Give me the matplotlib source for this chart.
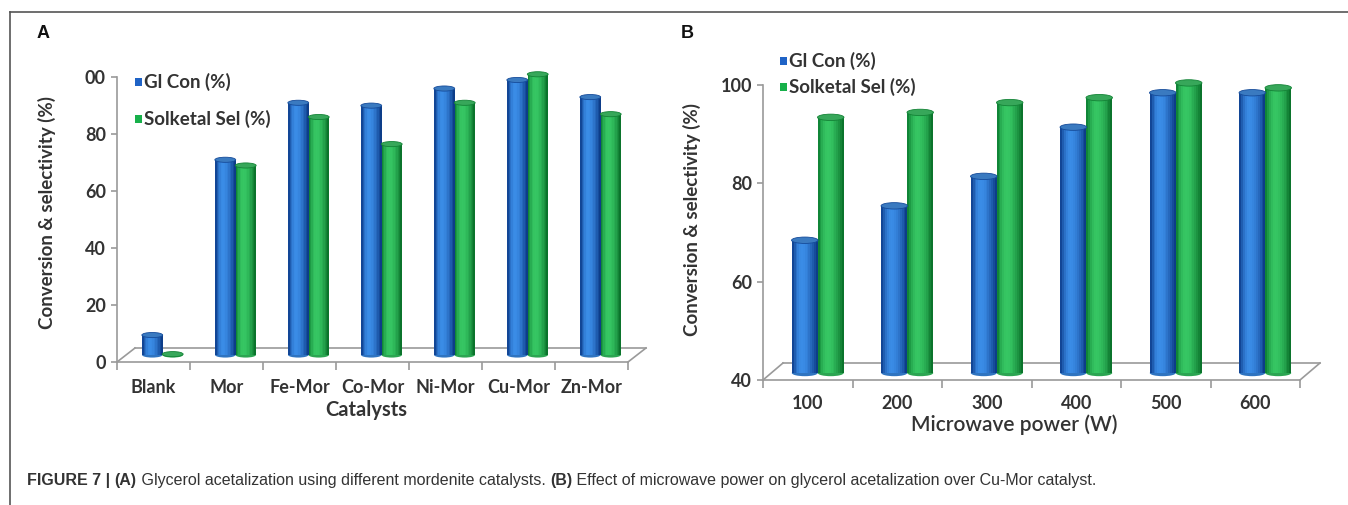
"""
Figure 7 recreation: glycerol acetalization over mordenite catalysts (A) and
effect of microwave power over Cu-Mor (B). 3D-ish cylinder bars, Excel style.
"""
import numpy as np
import matplotlib
matplotlib.use("Agg")
import matplotlib.pyplot as plt
from matplotlib.patches import Rectangle, Ellipse
from matplotlib.lines import Line2D
from matplotlib.transforms import ScaledTranslation
from matplotlib.colors import to_rgb

# data
catalysts = ["Blank", "Mor", "Fe-Mor", "Co-Mor", "Ni-Mor", "Cu-Mor", "Zn-Mor"]
gl_con_a = [7, 68.5, 88.5, 87.5, 93.5, 96.5, 90.5]
sol_sel_a = [0.3, 66.5, 83.5, 74, 88.5, 98.5, 84.5]

powers = ["100", "200", "300", "400", "500", "600"]
gl_con_b = [67, 74, 80, 90, 97, 97]
sol_sel_b = [92, 93, 95, 96, 99, 98]

yticks_a = [0, 20, 40, 60, 80, 100]
ytick_labels_a = ["0", "20", "40", "60", "80", "00"]
yticks_b = [40, 60, 80, 100]
ytick_labels_b = ["40", "60", "80", "100"]

BLUE = ("#0b3a88", "#3a8ce6", "#093580")   # dark edge, highlight, dark edge
GREEN = ("#0a7a2f", "#36c663", "#076c27")
AXIS_C = "#9a9a9a"
TXT = "#333333"
FONT = ["Lato", "DejaVu Sans"]

W, H = 1348, 505
fig = plt.figure(figsize=(W / 100, H / 100), dpi=100)


def fx(px):
    return px / W


def fy(py):
    return 1 - py / H


def shade(cols, t):
    dark1, light, dark2 = [np.array(to_rgb(c)) for c in cols]
    if t < 0.38:
        f = t / 0.38
        return dark1 + (light - dark1) * np.sin(f * np.pi / 2)
    f = (t - 0.38) / 0.62
    return light + (dark2 - light) * (1 - np.cos(f * np.pi / 2))


def cylinder(ax, x0, w, base, top, cols, cap_h, tr):
    n = 14
    for i in range(n):
        c = shade(cols, (i + 0.5) / n)
        ax.add_patch(Rectangle((x0 + i * w / n, base), w / n * 1.02, top - base,
                               facecolor=c, edgecolor="none", transform=tr,
                               clip_on=False, zorder=3))
    mid = shade(cols, 0.5)
    ax.add_patch(Ellipse((x0 + w / 2, base), w, cap_h, facecolor=mid * 0.85,
                         edgecolor="none", transform=tr, clip_on=False, zorder=2.9))
    capc = np.clip(np.array(to_rgb(cols[1])) * 0.78 + 0.05, 0, 1)
    ax.add_patch(Ellipse((x0 + w / 2, top), w * 1.02, cap_h, facecolor=capc,
                         edgecolor=shade(cols, 0.9), lw=0.6, transform=tr,
                         clip_on=False, zorder=3.1))


def panel(box, cats, s1, s2, yticks, ylabs, ymin, ymax, bw, shift, depth, cap_h,
          lbl_pad):
    left, right, y0px, y1px = box
    ax = fig.add_axes([fx(left), fy(y0px), fx(right - left), fy(y1px) - fy(y0px)])
    n = len(cats)
    ax.set_xlim(-0.5, n - 0.5)
    ax.set_ylim(ymin, ymax)
    for s in ["top", "right"]:
        ax.spines[s].set_visible(False)
    for s in ["left", "bottom"]:
        ax.spines[s].set_color(AXIS_C)
        ax.spines[s].set_linewidth(1.2)

    ax.set_yticks(yticks)
    ax.set_yticklabels(ylabs)
    ax.tick_params(axis="y", length=4, width=1.2, color=AXIS_C, pad=4,
                   labelsize=13, labelcolor=TXT)
    ax.set_xticks(range(n))
    ax.set_xticklabels(cats)
    ax.set_xticks(np.arange(-0.5, n, 1.0), minor=True)
    ax.tick_params(axis="x", which="major", length=0, pad=lbl_pad, labelsize=13,
                   labelcolor=TXT)
    ax.tick_params(axis="x", which="minor", length=6, width=1.2, color=AXIS_C,
                   direction="out")
    for t in ax.get_xticklabels() + ax.get_yticklabels():
        t.set_fontweight("bold")
        t.set_family(FONT)

    # floor of the 3D box
    dx, dy = depth
    back = ax.transData + ScaledTranslation(dx / 100, dy / 100, fig.dpi_scale_trans)
    ax.add_line(Line2D([-0.5, n - 0.5], [ymin, ymin], transform=back, color=AXIS_C,
                       lw=1.2, clip_on=False, zorder=1))
    xl0, yl0 = ax.transData.transform((-0.5, ymin))
    xr0, yr0 = ax.transData.transform((n - 0.5, ymin))
    inv = fig.transFigure.inverted()
    for xa, ya in [(xl0, yl0), (xr0, yr0)]:
        p0 = inv.transform((xa, ya))
        p1 = inv.transform((xa + dx, ya + dy))
        fig.add_artist(Line2D([p0[0], p1[0]], [p0[1], p1[1]], color=AXIS_C, lw=1.2))

    sx, sy = shift
    tr = ax.transData + ScaledTranslation(sx / 100, sy / 100, fig.dpi_scale_trans)
    for i in range(n):
        cylinder(ax, i - bw, bw, ymin, s1[i], BLUE, cap_h, tr)
        cylinder(ax, i, bw, ymin, max(s2[i], ymin + 0.01), GREEN, cap_h, tr)
    return ax


ax_a = panel((117, 628, 362, 77), catalysts, gl_con_a, sol_sel_a, yticks_a,
             ytick_labels_a, 0, 100, 0.28, (9, 7), (18, 14), 1.8, 12)
ax_b = panel((763, 1300, 380, 85), powers, gl_con_b, sol_sel_b, yticks_b,
             ytick_labels_b, 40, 100, 0.29, (10, 7), (20, 17), 1.3, 11)

# axis titles
fig.text(fx(47), fy(213), "Conversion & selectivity (%)", rotation=90, ha="center",
         va="center", fontsize=13.5, fontweight="bold", color=TXT, family=FONT)
fig.text(fx(692), fy(220), "Conversion & selectivity (%)", rotation=90, ha="center",
         va="center", fontsize=13.5, fontweight="bold", color=TXT, family=FONT)
fig.text(fx(366), fy(410), "Catalysts", ha="center", va="center", fontsize=14.5,
         fontweight="bold", color=TXT, family=FONT)
fig.text(fx(1014), fy(425), "Microwave power (W)", ha="center", va="center",
         fontsize=15, fontweight="semibold", color=TXT, family=FONT)

# legends: (square x, first row y, row gap)
for (lx, ly, gap) in [(138, 82, 37), (783, 61, 26)]:
    for k, (name, col) in enumerate([("Gl Con (%)", "#1f63c6"),
                                     ("Solketal Sel (%)", "#17b04a")]):
        yy = ly + k * gap
        fig.add_artist(Rectangle((fx(lx - 3.5), fy(yy + 4)), fx(7), fy(yy - 4) - fy(yy + 4),
                                 facecolor=col, edgecolor="none"))
        fig.text(fx(lx + 6), fy(yy), name, ha="left", va="center", fontsize=13.5,
                 fontweight="bold", color=TXT, family=FONT)

# panel letters
fig.text(fx(37), fy(33), "A", ha="left", va="center", fontsize=13, fontweight="bold",
         color="#111111", family=["Liberation Sans", "DejaVu Sans"])
fig.text(fx(681), fy(33), "B", ha="left", va="center", fontsize=13, fontweight="bold",
         color="#111111", family=["Liberation Sans", "DejaVu Sans"])

# frame
fig.add_artist(Line2D([fx(10), 1], [fy(12), fy(12)], color="#555555", lw=1.2))
fig.add_artist(Line2D([fx(10), fx(10)], [fy(12), 0], color="#555555", lw=1.2))

# caption, drawn piece by piece so bold parts sit inline
pieces = [("FIGURE 7 | ", "bold"), ("(A)", "bold"),
          (" Glycerol acetalization using different mordenite catalysts. ", "normal"),
          ("(B)", "bold"),
          (" Effect of microwave power on glycerol acetalization over Cu-Mor catalyst.",
           "normal")]
renderer = fig.canvas.get_renderer()
cx = 27
for txt, wgt in pieces:
    t = fig.text(fx(cx), fy(481), txt, ha="left", va="center", fontsize=11.5,
                 fontweight=wgt, color="#333333",
                 family=["Liberation Sans", "DejaVu Sans"])
    cx += t.get_window_extent(renderer).width

fig.savefig("out.png", dpi=100)
